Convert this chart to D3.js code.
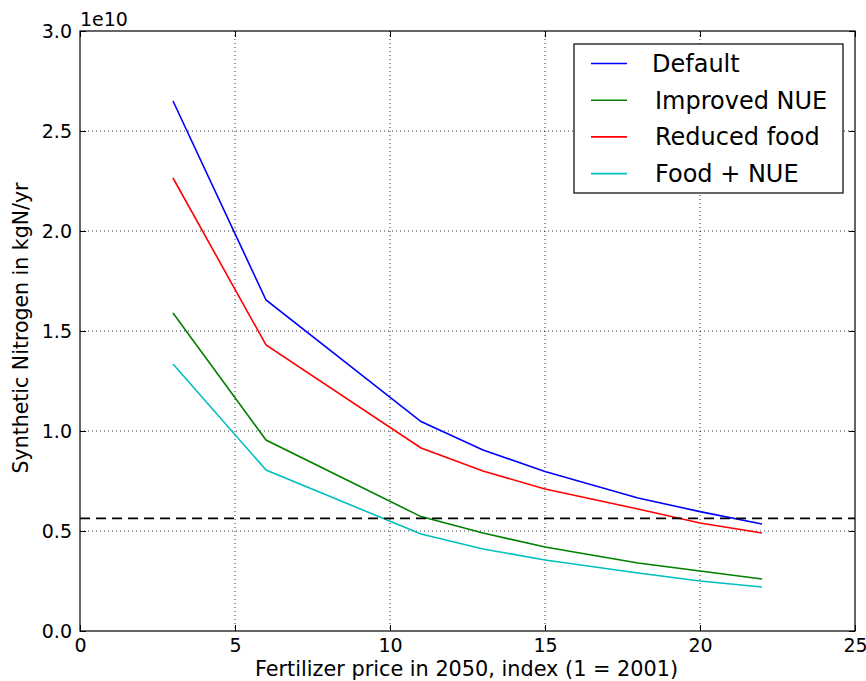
<!DOCTYPE html>
<html>
<head>
<meta charset="utf-8">
<script src="https://cdn.jsdelivr.net/npm/d3@7"></script>
<style>
  body { margin: 0; background: #fff; }
  svg text { font-family: "DejaVu Sans", sans-serif; fill: #000; }
</style>
</head>
<body>
<svg id="chart" width="866" height="681"></svg>
<script>
// fertilizer price index points
var prices = [3, 6, 11, 13, 15, 18, 20, 22]
// synthetic N, units of 1e10 kgN/yr
var defaultN  = [2.65, 1.655, 1.047, 0.905, 0.797, 0.665, 0.597, 0.535]
var nueN      = [1.59, 0.955, 0.572, 0.49, 0.42, 0.34, 0.30, 0.26]
var foodN     = [2.265, 1.43, 0.915, 0.80, 0.71, 0.61, 0.54, 0.49]
var foodNueN  = [1.335, 0.805, 0.485, 0.41, 0.355, 0.29, 0.25, 0.22]
var threshold = 0.563

var seriesNames = ["Default", "Improved NUE", "Reduced food", "Food + NUE"]
var seriesColors = ["#0000ff", "#008000", "#ff0000", "#00bfbf"]
var seriesData = [defaultN, nueN, foodN, foodNueN]

var xTicks = [0, 5, 10, 15, 20, 25]
var yTicks = [0, 0.5, 1.0, 1.5, 2.0, 2.5, 3.0]

var svg = d3.select("#chart")
var margin = {top: 31, right: 11, bottom: 50, left: 80}
var width = +svg.attr("width") - margin.left - margin.right
var height = +svg.attr("height") - margin.top - margin.bottom

var x = d3.scaleLinear().domain([0, 25]).range([0, width])
var y = d3.scaleLinear().domain([0, 3.0]).range([height, 0])

var g = svg.append("g").attr("transform", "translate(" + margin.left + "," + margin.top + ")")

// grid
g.selectAll(".vgrid").data(xTicks.slice(1, -1)).enter().append("line")
  .attr("x1", d => x(d)).attr("x2", d => x(d))
  .attr("y1", 0).attr("y2", height)
  .attr("stroke", "#000").attr("stroke-width", 0.8).attr("stroke-dasharray", "1,3")
g.selectAll(".hgrid").data(yTicks.slice(1, -1)).enter().append("line")
  .attr("y1", d => y(d)).attr("y2", d => y(d))
  .attr("x1", 0).attr("x2", width)
  .attr("stroke", "#000").attr("stroke-width", 0.8).attr("stroke-dasharray", "1,3")

// lines
var line = d3.line().x((d, i) => x(prices[i])).y(d => y(d))
seriesData.forEach(function(s, k) {
  g.append("path").datum(s)
    .attr("d", line)
    .attr("fill", "none")
    .attr("stroke", seriesColors[k])
    .attr("stroke-width", 1.6)
})

// threshold dashed line
g.append("line")
  .attr("x1", 0).attr("x2", width)
  .attr("y1", y(threshold)).attr("y2", y(threshold))
  .attr("stroke", "#000").attr("stroke-width", 1.6).attr("stroke-dasharray", "10,6")

// axes, ticks inward on all sides
var xAxis = d3.axisBottom(x).tickValues(xTicks).tickSize(-6).tickPadding(8).tickFormat(d3.format("d"))
var yAxis = d3.axisLeft(y).tickValues(yTicks).tickSize(-6).tickPadding(8).tickFormat(d3.format(".1f"))

var gx = g.append("g").attr("transform", "translate(0," + height + ")").call(xAxis)
var gy = g.append("g").call(yAxis)
g.append("g").call(d3.axisTop(x).tickValues(xTicks).tickSize(-6).tickFormat(""))
g.append("g").attr("transform", "translate(" + width + ",0)")
  .call(d3.axisRight(y).tickValues(yTicks).tickSize(-6).tickFormat(""))

g.selectAll(".domain").remove()
g.selectAll(".tick line").attr("stroke", "#000")
gx.selectAll("text").style("font-size", "19px")
gy.selectAll("text").style("font-size", "19px").attr("dy", "0.36em")

g.append("rect")
  .attr("width", width).attr("height", height)
  .attr("fill", "none").attr("stroke", "#000").attr("stroke-width", 1.2)

// labels
svg.append("text").attr("x", 80).attr("y", 26).style("font-size", "19px").text("1e10")
svg.append("text")
  .attr("x", margin.left + width / 2 - 1).attr("y", 676)
  .attr("text-anchor", "middle").style("font-size", "20.8px")
  .text("Fertilizer price in 2050, index (1 = 2001)")
svg.append("text")
  .attr("transform", "translate(28," + (margin.top + height / 2 - 3) + ") rotate(-90)")
  .attr("text-anchor", "middle").style("font-size", "20.5px")
  .text("Synthetic Nitrogen in kgN/yr")

// legend
var lg = svg.append("g").attr("transform", "translate(574,44)")
lg.append("rect").attr("width", 269).attr("height", 149)
  .attr("fill", "#fff").attr("stroke", "#000").attr("stroke-width", 1.2)
seriesNames.forEach(function(name, k) {
  var yy = 19.5 + k * 36.7
  lg.append("line").attr("x1", 17).attr("x2", 53).attr("y1", yy).attr("y2", yy)
    .attr("stroke", seriesColors[k]).attr("stroke-width", 1.6)
  lg.append("text").attr("x", k == 0 ? 78 : 81).attr("y", yy).attr("dy", "0.35em")
    .style("font-size", "24px").text(name)
})
</script>
</body>
</html>
